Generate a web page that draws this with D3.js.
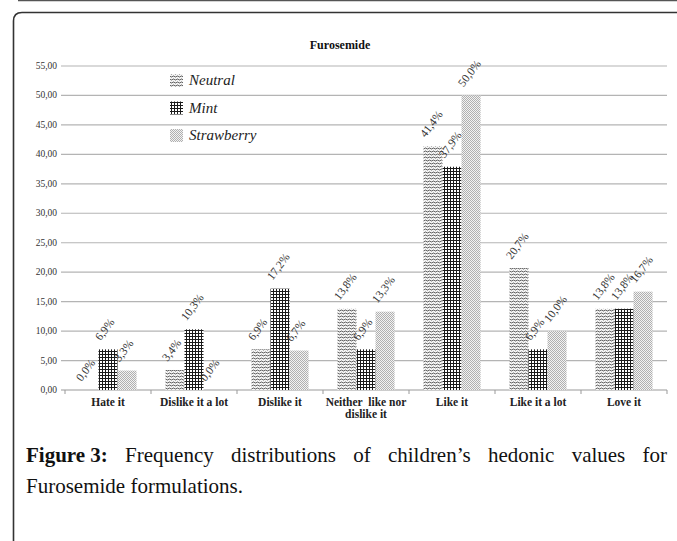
<!DOCTYPE html>
<html>
<head>
<meta charset="utf-8">
<script src="https://cdn.jsdelivr.net/npm/d3@7"></script>
<style>
html,body{margin:0;padding:0;background:#fff;}
svg{display:block;}
</style>
</head>
<body>
<svg id="chart" width="677" height="541"></svg>
<script>
const categories = ["Hate it","Dislike it a lot","Dislike it","Neither like nor dislike it","Like it","Like it a lot","Love it"];
const categoryLines = [["Hate it"],["Dislike it a lot"],["Dislike it"],["Neither  like nor","dislike it"],["Like it"],["Like it a lot"],["Love it"]];
const seriesNames = ["Neutral","Mint","Strawberry"];
const neutralValues = [0.0, 3.4, 6.9, 13.8, 41.4, 20.7, 13.8];
const mintValues = [6.9, 10.3, 17.2, 6.9, 37.9, 6.9, 13.8];
const strawberryValues = [3.3, 0.0, 6.7, 13.3, 50.0, 10.0, 16.7];
const yTicks = [0,5,10,15,20,25,30,35,40,45,50,55];
const chartTitle = "Furosemide";
const captionBold = "Figure 3:";
const captionLine1 = "Frequency distributions of children’s hedonic values for";
const captionLine2 = "Furosemide formulations.";

const seriesValues = [neutralValues, mintValues, strawberryValues];
const svg = d3.select("#chart");

// frame
svg.append("line").attr("x1",18).attr("x2",677).attr("y1",0.5).attr("y2",0.5)
  .attr("stroke","#555").attr("stroke-width",1.5);
svg.append("path").attr("d","M13.5,545 L13.5,21 Q13.5,12.5 22,12.5 L690,12.5")
  .attr("fill","none").attr("stroke","#333").attr("stroke-width",1.6);

// patterns
const defs = svg.append("defs");
const pN = defs.append("pattern").attr("id","pat0").attr("patternUnits","userSpaceOnUse")
  .attr("width",4).attr("height",3);
pN.append("rect").attr("width",4).attr("height",3).attr("fill","#f4f4f4");
pN.append("path").attr("d","M0,2 L1,1 L2,1 L3,2 L4,2").attr("stroke","#666").attr("stroke-width",1).attr("fill","none");
const pM = defs.append("pattern").attr("id","pat1").attr("patternUnits","userSpaceOnUse")
  .attr("width",3).attr("height",3);
pM.append("rect").attr("width",3).attr("height",3).attr("fill","#fff");
pM.append("rect").attr("x",0).attr("y",0).attr("width",3).attr("height",1).attr("fill","#1a1a1a");
pM.append("rect").attr("x",0).attr("y",0).attr("width",1).attr("height",3).attr("fill","#1a1a1a");
const pS = defs.append("pattern").attr("id","pat2").attr("patternUnits","userSpaceOnUse")
  .attr("width",2).attr("height",2);
pS.append("rect").attr("width",2).attr("height",2).attr("fill","#f2f2f2");
pS.append("rect").attr("x",0).attr("y",0).attr("width",1).attr("height",1).attr("fill","#b0b0b0");
pS.append("rect").attr("x",1).attr("y",1).attr("width",1).attr("height",1).attr("fill","#b0b0b0");

const plotLeft = 65, plotRight = 667, plotTop = 66, plotBottom = 390;
const x0 = d3.scaleBand().domain(categories).range([plotLeft,plotRight]).padding(0);
const x1 = d3.scaleBand().domain(seriesNames).range([x0.bandwidth()*0.168, x0.bandwidth()*0.832]).padding(0);
const y = d3.scaleLinear().domain([0,55]).range([plotBottom,plotTop]);

// gridlines
svg.append("g").selectAll("line").data(yTicks).join("line")
  .attr("x1",plotLeft-4).attr("x2",plotRight).attr("y1",d=>y(d)).attr("y2",d=>y(d))
  .attr("stroke",d=>d===0?"#999":"#b4b4b4").attr("stroke-width",1.2);

// y labels
svg.append("g").selectAll("text").data(yTicks).join("text")
  .attr("x",57).attr("y",d=>y(d)+3).attr("text-anchor","end")
  .attr("font-family","Liberation Serif").attr("font-size",9.5).attr("fill","#333")
  .text(d=>d3.format(".2f")(d).replace(".",","));

// x ticks
svg.append("g").selectAll("line").data(d3.range(categories.length+1)).join("line")
  .attr("x1",i=>plotLeft+i*x0.bandwidth()).attr("x2",i=>plotLeft+i*x0.bandwidth())
  .attr("y1",plotBottom).attr("y2",plotBottom+4).attr("stroke","#999").attr("stroke-width",1);

// bars
const gBars = svg.append("g");
categories.forEach((c,ci)=>{
  seriesNames.forEach((s,si)=>{
    const v = seriesValues[si][ci];
    const bx = x0(c)+x1(s);
    gBars.append("rect").attr("x",bx).attr("y",y(v)).attr("width",x1.bandwidth()).attr("height",plotBottom-y(v))
      .attr("fill",`url(#pat${si})`);
    gBars.append("text")
      .attr("transform",`translate(${bx+2},${y(v)-8}) rotate(-53)`)
      .attr("font-family","Liberation Serif").attr("font-size",11.5).attr("fill","#333")
      .text(d3.format(".1f")(v).replace(".",",")+"%");
  });
});

// x labels
categories.forEach((c,ci)=>{
  const t = svg.append("text").attr("text-anchor","middle")
    .attr("font-family","Liberation Serif").attr("font-weight","bold").attr("font-size",11.5).attr("fill","#222");
  categoryLines[ci].forEach((ln,li)=>{
    t.append("tspan").attr("x",x0(c)+x0.bandwidth()/2).attr("y",406+li*12).attr("xml:space","preserve").text(ln);
  });
});

// title
svg.append("text").attr("x",340).attr("y",49).attr("text-anchor","middle")
  .attr("font-family","Liberation Serif").attr("font-weight","bold").attr("font-size",12).attr("fill","#111")
  .text(chartTitle);

// legend
seriesNames.forEach((s,si)=>{
  const ly = 74 + si*27.5;
  svg.append("rect").attr("x",170).attr("y",ly).attr("width",13).attr("height",13).attr("fill",`url(#pat${si})`);
  svg.append("text").attr("x",189).attr("y",ly+11).attr("font-family","Liberation Serif").attr("font-style","italic")
    .attr("font-size",15).attr("fill","#222").text(s);
});

// caption, justified first line
const capFont = 21;
const words = [{t:captionBold,b:true}].concat(captionLine1.split(" ").map(w=>({t:w,b:false})));
const tmp = words.map(w=>{
  const el = svg.append("text").attr("font-family","Liberation Serif").attr("font-size",capFont)
    .attr("font-weight",w.b?"bold":"normal").attr("fill","#111").text(w.t);
  return {el, w: el.node().getComputedTextLength()};
});
const capLeft = 26, capRight = 667;
const total = d3.sum(tmp,d=>d.w);
const gap = Math.max(5,(capRight-capLeft-total)/(tmp.length-1));
let cx = capLeft;
tmp.forEach(d=>{ d.el.attr("x",cx).attr("y",462); cx += d.w+gap; });
svg.append("text").attr("x",capLeft).attr("y",493).attr("font-family","Liberation Serif").attr("font-size",capFont)
  .attr("fill","#111").text(captionLine2);
</script>
</body>
</html>
